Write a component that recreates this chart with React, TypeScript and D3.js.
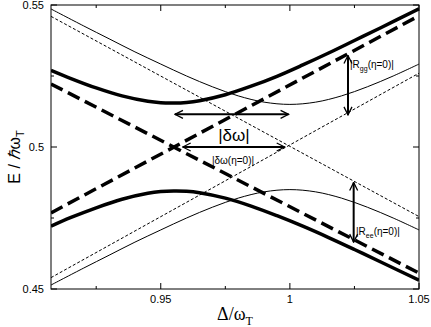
import React from "react";
import * as d3 from "d3";

// ---- data ----
const thickX = [0.9075, 0.915, 0.925, 0.935, 0.945, 0.95, 0.955, 0.96, 0.965, 0.975, 0.985, 0.995, 1.005, 1.015, 1.025, 1.035, 1.05];
const thickUpper = [0.527, 0.5242, 0.5208, 0.518, 0.5161, 0.5156, 0.5155, 0.5157, 0.5163, 0.5184, 0.5214, 0.5249, 0.5289, 0.5331, 0.5375, 0.5419, 0.5487];
const thickLower = [0.4721, 0.4751, 0.4786, 0.4816, 0.4837, 0.4843, 0.4845, 0.4844, 0.4839, 0.482, 0.4792, 0.4758, 0.4721, 0.4681, 0.4639, 0.4596, 0.4531];

const thinX = [0.9075, 0.92, 0.93, 0.94, 0.95, 0.96, 0.97, 0.98, 0.99, 1.0, 1.01, 1.02, 1.03, 1.04, 1.05];
const thinUpper = [0.5486, 0.5427, 0.5381, 0.5335, 0.5292, 0.525, 0.5212, 0.518, 0.5158, 0.515, 0.5158, 0.518, 0.5212, 0.525, 0.5292];
const thinLower = [0.4514, 0.4573, 0.4619, 0.4665, 0.4708, 0.475, 0.4788, 0.482, 0.4842, 0.485, 0.4842, 0.482, 0.4788, 0.475, 0.4708];

const lineX = [0.9075, 1.05];
const thickDashUp = [0.4768, 0.5462];
const thickDashDown = [0.5222, 0.4556];
const thinDashUp = [0.454, 0.526];
const thinDashDown = [0.546, 0.4755];

const xMajor = [0.95, 1, 1.05];
const xMinor = [0.925, 0.975, 1.025];
const yMajor = [0.45, 0.5, 0.55];
const yMinor = [0.475, 0.525];
const xTickLabels = ["0.95", "1", "1.05"];
const yTickLabels = ["0.45", "0.5", "0.55"];

// arrows: [x1, y1, x2, y2]
const arrowDeltaOmega = [0.9555, 0.5115, 0.9995, 0.5115];
const arrowDeltaOmega0 = [0.9585, 0.5, 0.998, 0.5];
const arrowRgg = [1.0225, 0.5322, 1.0225, 0.5113];
const arrowRee = [1.0247, 0.4875, 1.0247, 0.4665];

const W = 431;
const H = 327;
const L = 51, R = 419, T = 5, B = 289;

export default function App() {
  const x = d3.scaleLinear().domain([0.9075, 1.05]).range([L, R]);
  const y = d3.scaleLinear().domain([0.45, 0.55]).range([B, T]);
  const line = d3
    .line<[number, number]>()
    .x((d) => x(d[0]))
    .y((d) => y(d[1]))
    .curve(d3.curveCatmullRom.alpha(0.5));
  const straight = d3
    .line<[number, number]>()
    .x((d) => x(d[0]))
    .y((d) => y(d[1]));
  const zip = (xs: number[], ys: number[]) => xs.map((v, i) => [v, ys[i]] as [number, number]);

  const sans = "Liberation Sans, Arial, Helvetica, sans-serif";
  const serif = "Liberation Serif, Times New Roman, serif";

  const arrow = (a: number[], key: string) => (
    <line
      key={key}
      x1={x(a[0])}
      y1={y(a[1])}
      x2={x(a[2])}
      y2={y(a[3])}
      stroke="#000"
      strokeWidth={2}
      markerStart="url(#ah)"
      markerEnd="url(#ah)"
    />
  );

  return (
    <svg
      width={W}
      height={H}
      style={{ position: "absolute", left: 0, top: 0, background: "#fff" }}
    >
      <defs>
        <marker
          id="ah"
          viewBox="0 0 10 10"
          refX="9"
          refY="5"
          markerWidth="5"
          markerHeight="5"
          orient="auto-start-reverse"
          markerUnits="strokeWidth"
        >
          <path d="M1,1 L9,5 L1,9" fill="none" stroke="#000" strokeWidth={1.3} />
        </marker>
        <clipPath id="plot">
          <rect x={L} y={T} width={R - L} height={B - T} />
        </clipPath>
      </defs>
      <rect x={0} y={0} width={W} height={H} fill="#fff" />

      <g clipPath="url(#plot)" fill="none" stroke="#000">
        <path d={straight(zip(lineX, thinDashUp)) || ""} strokeWidth={1} strokeDasharray="3,2" />
        <path d={straight(zip(lineX, thinDashDown)) || ""} strokeWidth={1} strokeDasharray="3,2" />
        <path d={line(zip(thinX, thinUpper)) || ""} strokeWidth={1} />
        <path d={line(zip(thinX, thinLower)) || ""} strokeWidth={1} />
        <path d={straight(zip(lineX, thickDashUp)) || ""} strokeWidth={3.5} strokeDasharray="13,6" />
        <path d={straight(zip(lineX, thickDashDown)) || ""} strokeWidth={3.5} strokeDasharray="13,6" />
        <path d={line(zip(thickX, thickUpper)) || ""} strokeWidth={3.5} />
        <path d={line(zip(thickX, thickLower)) || ""} strokeWidth={3.5} />
      </g>

      {arrow(arrowDeltaOmega, "a1")}
      {arrow(arrowDeltaOmega0, "a2")}
      {arrow(arrowRgg, "a3")}
      {arrow(arrowRee, "a4")}

      {/* frame */}
      <rect x={L} y={T} width={R - L} height={B - T} fill="none" stroke="#000" strokeWidth={1} />

      {/* ticks */}
      <g stroke="#000" strokeWidth={1}>
        {xMajor.map((v) => (
          <g key={"xM" + v}>
            <line x1={x(v)} x2={x(v)} y1={B} y2={B - 6} />
            <line x1={x(v)} x2={x(v)} y1={T} y2={T + 6} />
          </g>
        ))}
        {xMinor.map((v) => (
          <g key={"xm" + v}>
            <line x1={x(v)} x2={x(v)} y1={B} y2={B - 3} />
            <line x1={x(v)} x2={x(v)} y1={T} y2={T + 3} />
          </g>
        ))}
        {yMajor.map((v) => (
          <g key={"yM" + v}>
            <line x1={L} x2={L + 6} y1={y(v)} y2={y(v)} />
            <line x1={R} x2={R - 6} y1={y(v)} y2={y(v)} />
          </g>
        ))}
        {yMinor.map((v) => (
          <g key={"ym" + v}>
            <line x1={L} x2={L + 3} y1={y(v)} y2={y(v)} />
            <line x1={R} x2={R - 3} y1={y(v)} y2={y(v)} />
          </g>
        ))}
      </g>

      {/* tick labels */}
      <g fontFamily={sans} fontSize={11} fill="#000">
        {xMajor.map((v, i) => (
          <text key={"xl" + v} x={x(v)} y={B + 14} textAnchor="middle">
            {xTickLabels[i]}
          </text>
        ))}
        {yMajor.map((v, i) => (
          <text key={"yl" + v} x={L - 7} y={y(v) + 4} textAnchor="end">
            {yTickLabels[i]}
          </text>
        ))}
      </g>

      {/* axis titles */}
      <text x={(L + R) / 2} y={320} textAnchor="middle" fontFamily={serif} fontSize={18} fill="#000">
        Δ/ω<tspan fontSize={12} dy={5}>T</tspan>
      </text>
      <text
        transform={`translate(20,${(T + B) / 2 + 10}) rotate(-90)`}
        textAnchor="middle"
        fontFamily={sans}
        fontSize={16}
        fill="#000"
      >
        E / <tspan fontStyle="italic">ℏ</tspan>ω<tspan fontSize={11} dy={4}>T</tspan>
      </text>

      {/* annotations */}
      <text x={234} y={141} textAnchor="middle" fontFamily={sans} fontSize={17} fill="#000">
        |δω|
      </text>
      <text x={233} y={164} textAnchor="middle" fontFamily={sans} fontSize={10} fill="#000">
        |δω(η=0)|
      </text>
      <text x={350} y={68} fontFamily={sans} fontSize={10} fill="#000">
        |R<tspan fontSize={7} dy={3}>gg</tspan>
        <tspan dy={-3}>(η=0)|</tspan>
      </text>
      <text x={356} y={235} fontFamily={sans} fontSize={10} fill="#000">
        |R<tspan fontSize={7} dy={3}>ee</tspan>
        <tspan dy={-3}>(η=0)|</tspan>
      </text>
    </svg>
  );
}
